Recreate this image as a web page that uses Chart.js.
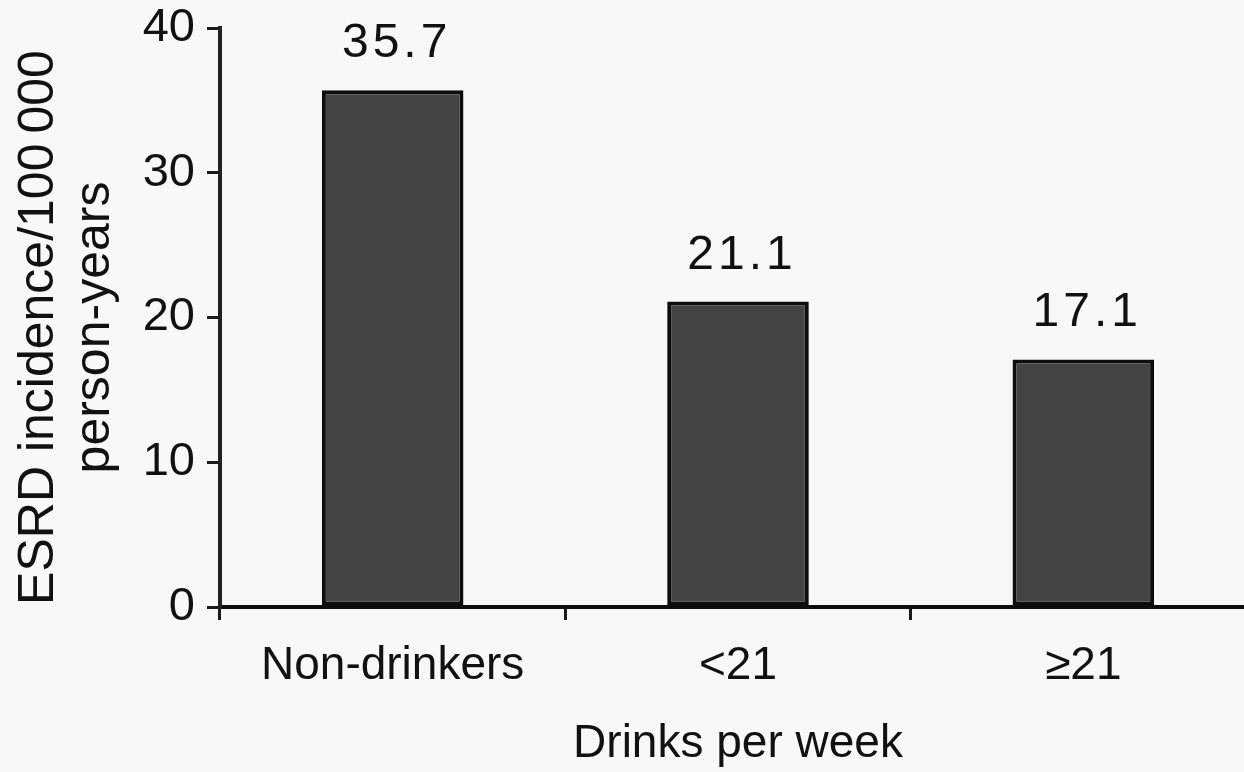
<!DOCTYPE html>
<html>
<head>
<meta charset="utf-8">
<script src="https://cdn.jsdelivr.net/npm/chart.js@4.4.1/dist/chart.umd.min.js"></script>
<style>
  html, body { margin: 0; padding: 0; background: #f8f8f8; overflow: hidden; }
  #wrap { width: 1256px; height: 772px; position: relative; }
</style>
</head>
<body>
<div id="wrap"><canvas id="c"></canvas></div>
<script>
const categories = ['Non-drinkers', '<21', '\u226521'];
const incidence = [35.7, 21.1, 17.1];
const valueLabels = ['35.7', '21.1', '17.1'];
const yTicks = [0, 10, 20, 30, 40];
const yTitle = ['ESRD incidence/100\u2009000', 'person-years'];
const xTitle = 'Drinks per week';

const FONT = "'Liberation Sans', Arial, Helvetica, sans-serif";
const INK = '#111';

const valueLabelPlugin = {
  id: 'valueLabels',
  afterDatasetsDraw(chart) {
    const ctx = chart.ctx;
    const meta = chart.getDatasetMeta(0);
    ctx.save();
    ctx.font = '48px ' + FONT;
    ctx.fillStyle = INK;
    ctx.textAlign = 'center';
    ctx.textBaseline = 'alphabetic';
    try { ctx.letterSpacing = '4px'; } catch (e) {}
    meta.data.forEach((bar, i) => {
      const p = bar.getProps(['x', 'y'], true);
      ctx.fillText(valueLabels[i], p.x + 4, p.y - 33);
    });
    ctx.restore();
  }
};

const yTitlePlugin = {
  id: 'yTitle',
  afterDraw(chart) {
    const ctx = chart.ctx;
    const area = chart.chartArea;
    const cy = (area.top + area.bottom) / 2 + 10;
    ctx.save();
    ctx.font = '50px ' + FONT;
    ctx.fillStyle = INK;
    ctx.textAlign = 'center';
    ctx.textBaseline = 'alphabetic';
    const baselines = [53, 109];
    yTitle.forEach((line, i) => {
      ctx.save();
      ctx.translate(baselines[i], cy);
      ctx.rotate(-Math.PI / 2);
      ctx.fillText(line, 0, 0);
      ctx.restore();
    });
    ctx.restore();
  }
};

new Chart(document.getElementById('c'), {
  type: 'bar',
  data: {
    labels: categories,
    datasets: [{
      data: incidence,
      backgroundColor: '#434343',
      borderColor: '#0d0d0d',
      borderWidth: 4,
      borderSkipped: false,
      barPercentage: 0.41,
      categoryPercentage: 1.0
    }]
  },
  options: {
    responsive: true,
    maintainAspectRatio: false,
    animation: false,
    devicePixelRatio: 1,
    layout: { padding: { top: 0, right: 0, bottom: 0, left: 0 } },
    plugins: { legend: { display: false }, tooltip: { enabled: false } },
    scales: {
      x: {
        grid: { display: true, drawOnChartArea: false, drawTicks: true, tickLength: 13, color: '#1a1a1a', lineWidth: 3, offset: true },
        border: { display: true, color: '#0d0d0d', width: 4 },
        ticks: { color: INK, font: { family: FONT, size: 46 }, padding: 19, maxRotation: 0 },
        title: { display: true, text: xTitle, color: INK, font: { family: FONT, size: 46 }, padding: { top: 0, bottom: 0 } },
        afterFit(s) { s.height = 165; }
      },
      y: {
        min: 0, max: 40,
        afterBuildTicks(s) { s.ticks = yTicks.map(v => ({ value: v })); },
        grid: { display: true, drawOnChartArea: false, drawTicks: true, tickLength: 13, color: '#1a1a1a', lineWidth: 3 },
        border: { display: true, color: '#222', width: 4 },
        ticks: { color: INK, font: { family: FONT, size: 47 }, padding: 12 },
        title: { display: false },
        afterFit(s) { s.width = 220; s.paddingTop = 28; }
      }
    }
  },
  plugins: [valueLabelPlugin, yTitlePlugin]
});
</script>
</body>
</html>
